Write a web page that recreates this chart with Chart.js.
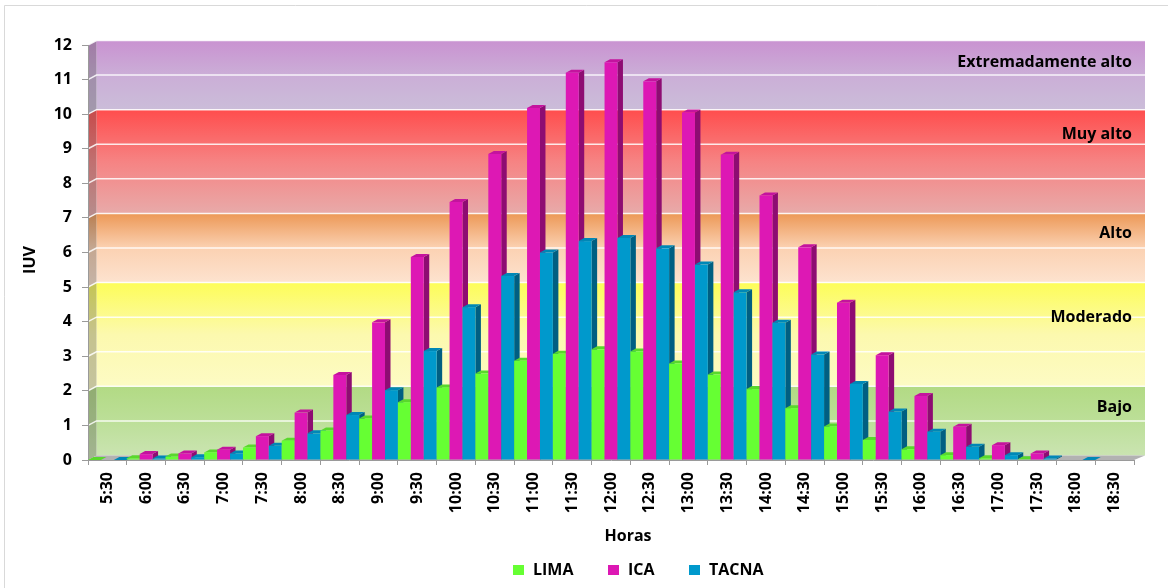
<!DOCTYPE html>
<html>
<head>
<meta charset="utf-8">
<script src="https://cdn.jsdelivr.net/npm/chart.js@4.4.1/dist/chart.umd.min.js"></script>
<style>
  html, body { margin: 0; padding: 0; background: #fff; }
  #wrap { width: 1168px; height: 588px; }
</style>
</head>
<body>
<div id="wrap"><canvas id="uvChart" width="1168" height="588"></canvas></div>
<script>
// Horas del dia
const horas = ["5:30", "6:00", "6:30", "7:00", "7:30", "8:00", "8:30", "9:00", "9:30",
  "10:00", "10:30", "11:00", "11:30", "12:00", "12:30", "13:00", "13:30", "14:00",
  "14:30", "15:00", "15:30", "16:00", "16:30", "17:00", "17:30", "18:00", "18:30"];

// IUV por ciudad
const lima = [0, 0.05, 0.1, 0.22, 0.36, 0.56, 0.85, 1.2, 1.67, 2.1, 2.5, 2.87, 3.07,
  3.2, 3.14, 2.79, 2.47, 2.05, 1.5, 0.97, 0.58, 0.31, 0.14, 0.05, 0.02, null, null];
const ica = [null, 0.17, 0.19, 0.3, 0.69, 1.37, 2.46, 3.98, 5.87, 7.46, 8.85, 10.18, 11.2,
  11.5, 10.95, 10.05, 8.83, 7.65, 6.15, 4.55, 3.03, 1.85, 0.96, 0.43, 0.19, null, null];
const tacna = [0, 0.04, 0.08, 0.19, 0.41, 0.77, 1.3, 2.02, 3.15, 4.42, 5.32, 6.0, 6.33,
  6.42, 6.12, 5.65, 4.85, 3.97, 3.05, 2.2, 1.4, 0.82, 0.38, 0.14, 0.04, 0, null];

// Niveles de riesgo
const bandLimits = [0, 2, 5, 7, 10, 12];
const bandNames = ["Bajo", "Moderado", "Alto", "Muy alto", "Extremadamente alto"];

const FONT = "'Open Sans', Lato, sans-serif";

// colours: [bottom, middle, top] of each band
const bandColors = [
  ["#cae4b1", "#bcdf98", "#b2da84"],
  ["#fdfbc4", "#fcf9ae", "#fdfd58"],
  ["#fde3cf", "#fbd1b2", "#ec9856"],
  ["#e8aaa9", "#f68383", "#ff4d4d"],
  ["#cbbdd9", "#cbaed7", "#c992d1"],
];
// where each band name sits (in IUV units, front plane)
const bandLabelAt = [1.51, 4.11, 6.56, 9.42, 11.5];

const seriesColors = {
  front: ["#66ff33", "#dd18b4", "#0099cc"],
  side: ["#47b823", "#8e0c72", "#005f82"],
  top: ["#59d82c", "#c4139e", "#0087b6"],
};

const wall = { dxL: 8.5, dxR: 11, dy: 4.5 };
const bar = { dx: 5.5, dy: 3 };

function poly(ctx, pts, fill) {
  ctx.beginPath();
  ctx.moveTo(pts[0][0], pts[0][1]);
  for (let i = 1; i < pts.length; i++) ctx.lineTo(pts[i][0], pts[i][1]);
  ctx.closePath();
  ctx.fillStyle = fill;
  ctx.fill();
}

const walls3d = {
  id: "walls3d",
  beforeDraw(chart) {
    const ctx = chart.ctx;
    const { left, right } = chart.chartArea;
    const y = chart.scales.y;
    const L = left + wall.dxL, R = right + wall.dxR;
    const yf = (v) => y.getPixelForValue(v);
    const yb = (v) => y.getPixelForValue(v) - wall.dy;

    ctx.save();
    ctx.fillStyle = "#fff";
    ctx.fillRect(0, 0, chart.width, chart.height);

    // frame
    ctx.strokeStyle = "#d9d9d9";
    ctx.lineWidth = 1;
    ctx.beginPath();
    ctx.moveTo(4.5, chart.height);
    ctx.lineTo(4.5, 5.5);
    ctx.lineTo(chart.width, 5.5);
    ctx.stroke();

    for (let k = 0; k < bandNames.length; k++) {
      const lo = bandLimits[k], hi = bandLimits[k + 1];
      const g = ctx.createLinearGradient(0, yb(lo), 0, yb(hi));
      g.addColorStop(0, bandColors[k][0]);
      g.addColorStop(0.5, bandColors[k][1]);
      g.addColorStop(1, bandColors[k][2]);
      ctx.fillStyle = g;
      ctx.fillRect(L, yb(hi), R - L, yb(lo) - yb(hi));
      // side wall
      const side = [[left, yf(hi)], [L, yb(hi)], [L, yb(lo)], [left, yf(lo)]];
      poly(ctx, side, g);
      poly(ctx, side, "rgba(70,70,70,0.3)");
    }

    // grid lines
    ctx.strokeStyle = "rgba(255,255,255,0.85)";
    ctx.lineWidth = 1.5;
    for (let v = 1; v <= 12; v++) {
      ctx.beginPath();
      ctx.moveTo(left, yf(v));
      ctx.lineTo(L, yb(v));
      ctx.lineTo(R, yb(v));
      ctx.stroke();
    }

    // floor
    poly(ctx, [[left, yf(0)], [right, yf(0)], [R, yb(0)], [L, yb(0)]], "#b2b2b2");

    // band names
    ctx.fillStyle = "#000";
    ctx.font = "bold 16px " + FONT;
    ctx.textAlign = "right";
    ctx.textBaseline = "middle";
    bandNames.forEach((name, k) => {
      ctx.fillText(name, right - 2, yf(bandLabelAt[k]));
    });
    ctx.restore();
  },
};

const bars3d = {
  id: "bars3d",
  beforeDatasetsDraw(chart) {
    const ctx = chart.ctx;
    const metas = chart.getSortedVisibleDatasetMetas();
    ctx.save();
    for (let i = 0; i < horas.length; i++) {
      metas.forEach((meta, d) => {
        const value = chart.data.datasets[meta.index].data[i];
        if (value === null || value === undefined) return;
        const p = meta.data[i].getProps(["x", "y", "base", "width"], true);
        const l = p.x - p.width / 2, r = p.x + p.width / 2;
        const t = Math.min(p.y, p.base), b = p.base;
        poly(ctx, [[r, b], [r, t], [r + bar.dx, t - bar.dy], [r + bar.dx, b - bar.dy]], seriesColors.side[d]);
        poly(ctx, [[l, t], [r, t], [r + bar.dx, t - bar.dy], [l + bar.dx, t - bar.dy]], seriesColors.top[d]);
        ctx.fillStyle = seriesColors.front[d];
        ctx.fillRect(l, t, r - l, b - t);
      });
    }
    ctx.restore();
    return false;
  },
};

const labels3d = {
  id: "labels3d",
  afterDraw(chart) {
    const ctx = chart.ctx;
    ctx.save();
    ctx.fillStyle = "#000";
    ctx.font = "bold 16px " + FONT;
    ctx.textAlign = "center";
    ctx.textBaseline = "middle";
    ctx.fillText("Horas", 628, 536);

    ctx.save();
    ctx.translate(30, 260);
    ctx.rotate(-Math.PI / 2);
    ctx.fillText("IUV", 0, 0);
    ctx.restore();

    // legend
    const legendX = [513, 608, 689];
    ctx.textAlign = "left";
    chart.data.datasets.forEach((ds, d) => {
      ctx.fillStyle = seriesColors.front[d];
      ctx.fillRect(legendX[d], 565, 11, 10);
      ctx.fillStyle = "#000";
      ctx.fillText(ds.label, legendX[d] + 20, 570.5);
    });
    ctx.restore();
  },
};

const ctx = document.getElementById("uvChart").getContext("2d");
new Chart(ctx, {
  type: "bar",
  data: {
    labels: horas,
    datasets: [
      { label: "LIMA", data: lima, backgroundColor: seriesColors.front[0] },
      { label: "ICA", data: ica, backgroundColor: seriesColors.front[1] },
      { label: "TACNA", data: tacna, backgroundColor: seriesColors.front[2] },
    ],
  },
  options: {
    responsive: false,
    animation: false,
    layout: { padding: { top: 45, right: 34, left: 0, bottom: 0 } },
    datasets: { bar: { barPercentage: 1, categoryPercentage: 1 } },
    plugins: { legend: { display: false }, tooltip: { enabled: false } },
    scales: {
      x: {
        afterFit: (scale) => { scale.height = 128; },
        grid: { display: true, drawOnChartArea: false, tickLength: 5, color: "#9a9a9a" },
        border: { display: true, color: "#9a9a9a" },
        ticks: {
          autoSkip: false, minRotation: 90, maxRotation: 90, padding: 7,
          color: "#000", font: { family: FONT, size: 16, weight: "bold" },
        },
      },
      y: {
        min: 0, max: 12,
        afterFit: (scale) => { scale.width = 88; },
        grid: { display: true, drawOnChartArea: false, tickLength: 6, color: "#9a9a9a" },
        border: { display: true, color: "#9a9a9a" },
        ticks: {
          stepSize: 1, padding: 10,
          color: "#000", font: { family: FONT, size: 16, weight: "bold" },
        },
      },
    },
  },
  plugins: [walls3d, bars3d, labels3d],
});
</script>
</body>
</html>
